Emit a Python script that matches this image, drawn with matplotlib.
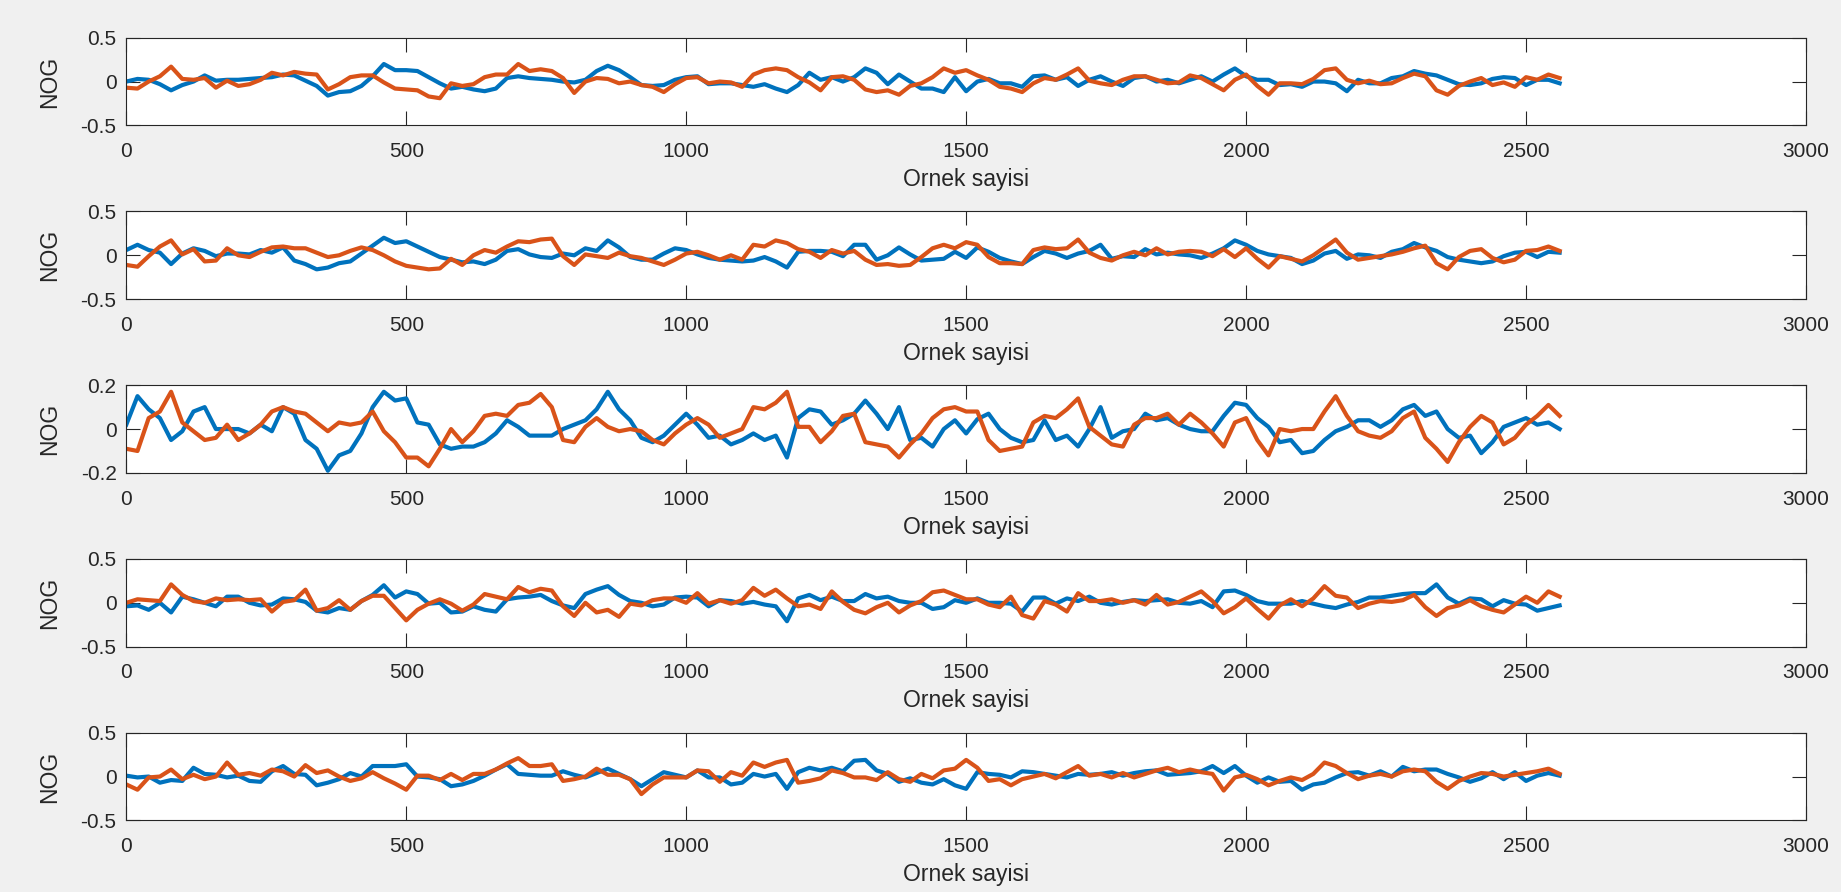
import numpy as np
import matplotlib
matplotlib.use('Agg')
import matplotlib.pyplot as plt

# sample index of every value (one reading each 20 samples)
sample = np.arange(0, 2561, 20)

panel1_blue = [
    0.00, 0.03, 0.02, -0.03, -0.10, -0.04, 0.00, 0.07, 0.01, 0.02,
    0.02, 0.03, 0.04, 0.05, 0.08, 0.07, 0.01, -0.05, -0.16, -0.12,
    -0.11, -0.05, 0.06, 0.20, 0.13, 0.13, 0.12, 0.05, -0.02, -0.08,
    -0.06, -0.09, -0.11, -0.08, 0.04, 0.06, 0.04, 0.03, 0.02, 0.00,
    -0.01, 0.02, 0.12, 0.18, 0.13, 0.05, -0.04, -0.05, -0.04, 0.02,
    0.05, 0.06, -0.03, -0.02, -0.02, -0.04, -0.06, -0.03, -0.08, -0.12,
    -0.04, 0.10, 0.02, 0.05, 0.00,
    0.05, 0.15, 0.10, -0.03, 0.08, 0.00, -0.08, -0.08, -0.12, 0.05,
    -0.11, 0.00, 0.03, -0.02, -0.02, -0.06, 0.06, 0.07, 0.02, 0.05,
    -0.05, 0.02, 0.06, 0.00, -0.05, 0.04, 0.06, 0.00, 0.02, -0.02,
    0.02, 0.06, 0.00, 0.08, 0.15, 0.06, 0.02, 0.02, -0.04, -0.03,
    -0.06, 0.00, 0.00, -0.02, -0.11, 0.02, -0.02, -0.02, 0.04, 0.06,
    0.12, 0.09, 0.07, 0.02, -0.03, -0.04, -0.02, 0.03, 0.05, 0.04,
    -0.04, 0.02, 0.02, -0.02]
panel1_orange = [
    -0.07, -0.08, 0.00, 0.06, 0.17, 0.03, 0.02, 0.04, -0.07, 0.01,
    -0.05, -0.03, 0.02, 0.10, 0.07, 0.11, 0.09, 0.08, -0.09, -0.03,
    0.05, 0.07, 0.07, -0.01, -0.08, -0.09, -0.10, -0.17, -0.19, -0.02,
    -0.05, -0.03, 0.05, 0.08, 0.08, 0.20, 0.12, 0.14, 0.12, 0.04,
    -0.13, 0.00, 0.04, 0.03, -0.02, 0.00, -0.04, -0.06, -0.12, -0.03,
    0.04, 0.05, -0.02, 0.00, -0.01, -0.06, 0.08, 0.13, 0.15, 0.13,
    0.05, -0.01, -0.10, 0.05, 0.06,
    0.02, -0.09, -0.12, -0.10, -0.15, -0.05, -0.02, 0.05, 0.15, 0.10,
    0.13, 0.07, 0.02, -0.06, -0.08, -0.12, -0.02, 0.04, 0.02, 0.08,
    0.15, 0.01, -0.02, -0.04, 0.02, 0.06, 0.06, 0.02, -0.02, -0.01,
    0.07, 0.04, -0.03, -0.10, 0.02, 0.08, -0.05, -0.15, -0.02, -0.02,
    -0.03, 0.03, 0.13, 0.15, 0.02, -0.02, 0.01, -0.03, -0.02, 0.04,
    0.09, 0.06, -0.10, -0.15, -0.05, 0.00, 0.04, -0.04, -0.01, -0.06,
    0.05, 0.02, 0.08, 0.04]

panel2_blue = [
    0.06, 0.12, 0.06, 0.03, -0.10, 0.02, 0.08, 0.05, -0.01, 0.02,
    0.02, 0.01, 0.06, 0.03, 0.09, -0.06, -0.10, -0.16, -0.14, -0.09,
    -0.07, 0.02, 0.11, 0.20, 0.14, 0.16, 0.10, 0.04, -0.02, -0.05,
    -0.08, -0.07, -0.10, -0.05, 0.05, 0.07, 0.01, -0.02, -0.03, 0.02,
    0.00, 0.08, 0.05, 0.17, 0.09, -0.02, -0.05, -0.05, 0.02, 0.08,
    0.06, 0.01, -0.03, -0.05, -0.06, -0.07, -0.06, -0.02, -0.07, -0.14,
    0.04, 0.05, 0.05, 0.04, -0.01,
    0.12, 0.12, -0.05, 0.00, 0.09, 0.01, -0.06, -0.05, -0.04, 0.04,
    -0.03, 0.09, 0.04, -0.03, -0.07, -0.10, -0.02, 0.05, 0.02, -0.03,
    0.02, 0.05, 0.12, -0.04, -0.01, -0.02, 0.07, 0.01, 0.03, 0.01,
    0.00, -0.03, 0.02, 0.08, 0.17, 0.12, 0.05, 0.01, -0.01, -0.03,
    -0.10, -0.06, 0.02, 0.05, -0.04, 0.01, 0.00, -0.03, 0.04, 0.07,
    0.14, 0.09, 0.05, -0.02, -0.05, -0.07, -0.09, -0.07, -0.01, 0.03,
    0.04, -0.02, 0.04, 0.03]
panel2_orange = [
    -0.11, -0.13, -0.01, 0.10, 0.17, 0.01, 0.07, -0.07, -0.06, 0.08,
    0.00, -0.02, 0.04, 0.09, 0.10, 0.08, 0.08, 0.03, -0.02, 0.00,
    0.05, 0.09, 0.06, 0.00, -0.07, -0.12, -0.14, -0.16, -0.15, -0.04,
    -0.11, 0.00, 0.06, 0.03, 0.10, 0.16, 0.15, 0.18, 0.19, -0.01,
    -0.11, 0.01, -0.01, -0.03, 0.03, -0.01, -0.03, -0.07, -0.11, -0.05,
    0.02, 0.04, 0.00, -0.05, 0.00, -0.05, 0.12, 0.10, 0.17, 0.14,
    0.07, 0.04, -0.03, 0.06, 0.02,
    0.05, -0.05, -0.11, -0.10, -0.12, -0.11, -0.02, 0.08, 0.12, 0.08,
    0.15, 0.12, -0.02, -0.09, -0.09, -0.10, 0.06, 0.09, 0.07, 0.08,
    0.18, 0.03, -0.03, -0.06, 0.00, 0.04, 0.00, 0.08, 0.01, 0.04,
    0.05, 0.04, -0.01, 0.07, -0.02, 0.08, -0.04, -0.14, -0.01, -0.04,
    -0.07, 0.00, 0.09, 0.18, 0.03, -0.05, -0.03, -0.01, 0.01, 0.04,
    0.08, 0.11, -0.09, -0.16, -0.02, 0.05, 0.07, -0.03, -0.08, -0.05,
    0.05, 0.06, 0.10, 0.05]

panel3_blue = [
    0.02, 0.15, 0.09, 0.05, -0.05, -0.01, 0.08, 0.10, 0.00, 0.00,
    0.00, -0.02, 0.02, -0.01, 0.10, 0.07, -0.05, -0.09, -0.19, -0.12,
    -0.10, -0.02, 0.10, 0.17, 0.13, 0.14, 0.03, 0.02, -0.07, -0.09,
    -0.08, -0.08, -0.06, -0.02, 0.04, 0.01, -0.03, -0.03, -0.03, 0.00,
    0.02, 0.04, 0.09, 0.17, 0.09, 0.04, -0.04, -0.06, -0.03, 0.02,
    0.07, 0.02, -0.04, -0.03, -0.07, -0.05, -0.02, -0.05, -0.03, -0.13,
    0.05, 0.09, 0.08, 0.02, 0.04,
    0.07, 0.13, 0.07, 0.00, 0.10, -0.05, -0.04, -0.08, 0.00, 0.04,
    -0.02, 0.045, 0.07, 0.00, -0.04, -0.06, -0.05, 0.04, -0.05, -0.03,
    -0.08, 0.00, 0.10, -0.04, -0.01, 0.00, 0.07, 0.04, 0.05, 0.02,
    0.00, -0.01, -0.01, 0.06, 0.12, 0.11, 0.05, 0.01, -0.06, -0.05,
    -0.11, -0.10, -0.05, -0.01, 0.01, 0.04, 0.04, 0.01, 0.04, 0.09,
    0.11, 0.06, 0.08, 0.00, -0.04, -0.03, -0.11, -0.06, 0.01, 0.03,
    0.05, 0.02, 0.03, 0.00]
panel3_orange = [
    -0.09, -0.10, 0.05, 0.08, 0.17, 0.03, -0.01, -0.05, -0.04, 0.02,
    -0.05, -0.02, 0.02, 0.08, 0.10, 0.08, 0.07, 0.03, -0.01, 0.03,
    0.02, 0.03, 0.08, -0.01, -0.06, -0.13, -0.13, -0.17, -0.09, 0.00,
    -0.06, -0.01, 0.06, 0.07, 0.06, 0.11, 0.12, 0.16, 0.10, -0.05,
    -0.06, 0.01, 0.05, 0.01, -0.01, 0.00, -0.01, -0.05, -0.07, -0.02,
    0.02, 0.05, 0.02, -0.04, -0.02, 0.00, 0.10, 0.09, 0.12, 0.17,
    0.01, 0.01, -0.06, -0.01, 0.06,
    0.07, -0.06, -0.07, -0.08, -0.13, -0.07, -0.02, 0.05, 0.09, 0.10,
    0.08, 0.08, -0.05, -0.10, -0.09, -0.08, 0.03, 0.06, 0.05, 0.09,
    0.14, 0.01, -0.03, -0.07, -0.08, 0.02, 0.05, 0.05, 0.07, 0.02,
    0.07, 0.03, -0.02, -0.08, 0.03, 0.05, -0.05, -0.12, 0.00, -0.01,
    0.00, 0.00, 0.08, 0.15, 0.06, -0.01, -0.03, -0.04, -0.01, 0.05,
    0.08, -0.04, -0.09, -0.15, -0.06, 0.01, 0.06, 0.03, -0.07, -0.04,
    0.02, 0.06, 0.11, 0.06]

panel4_blue = [
    -0.04, -0.03, -0.08, 0.00, -0.11, 0.07, 0.04, 0.00, -0.04, 0.07,
    0.07, 0.00, -0.03, -0.02, 0.05, 0.04, 0.01, -0.09, -0.11, -0.06,
    -0.08, 0.02, 0.09, 0.20, 0.06, 0.13, 0.10, -0.01, 0.00, -0.11,
    -0.10, -0.04, -0.08, -0.10, 0.04, 0.06, 0.07, 0.09, 0.02, -0.03,
    -0.06, 0.10, 0.15, 0.19, 0.09, 0.02, 0.00, -0.04, -0.02, 0.06,
    0.07, 0.06, -0.04, 0.03, 0.02, -0.01, 0.01, -0.02, -0.04, -0.21,
    0.05, 0.09, 0.03, 0.07, 0.02,
    0.02, 0.10, 0.05, 0.07, 0.02, 0.00, 0.00, -0.07, -0.05, 0.03,
    0.00, 0.05, 0.00, 0.00, -0.01, -0.10, 0.06, 0.06, -0.01, 0.05,
    0.02, 0.07, 0.00, -0.02, 0.01, 0.03, 0.02, 0.03, 0.04, 0.00,
    -0.01, 0.02, -0.05, 0.13, 0.14, 0.09, 0.02, -0.01, -0.01, -0.01,
    0.02, -0.01, -0.04, -0.06, -0.02, 0.01, 0.06, 0.06, 0.08, 0.10,
    0.11, 0.11, 0.21, 0.06, -0.01, 0.05, 0.04, -0.04, 0.03, -0.01,
    -0.02, -0.09, -0.06, -0.03]
panel4_orange = [
    0.00, 0.04, 0.03, 0.02, 0.21, 0.09, 0.02, 0.00, 0.05, 0.03,
    0.04, 0.03, 0.04, -0.10, 0.01, 0.03, 0.15, -0.09, -0.06, 0.03,
    -0.08, 0.02, 0.08, 0.08, -0.06, -0.20, -0.08, -0.01, 0.04, -0.01,
    -0.09, -0.02, 0.10, 0.07, 0.04, 0.18, 0.12, 0.16, 0.14, -0.04,
    -0.15, 0.00, -0.11, -0.08, -0.16, -0.01, -0.03, 0.03, 0.05, 0.05,
    0.00, 0.11, -0.01, 0.03, -0.01, 0.03, 0.17, 0.08, 0.15, 0.05,
    -0.04, -0.02, -0.07, 0.13, 0.01,
    -0.08, -0.12, -0.05, 0.00, -0.11, -0.03, 0.02, 0.12, 0.14, 0.09,
    0.04, 0.04, -0.02, -0.05, 0.07, -0.14, -0.18, 0.02, -0.02, -0.10,
    0.11, 0.02, 0.02, 0.04, 0.00, 0.03, -0.02, 0.09, -0.02, 0.01,
    0.07, 0.13, 0.02, -0.12, -0.05, 0.05, -0.07, -0.18, -0.03, 0.04,
    -0.04, 0.05, 0.19, 0.08, 0.06, -0.06, -0.01, 0.02, 0.01, 0.03,
    0.09, -0.05, -0.15, -0.06, -0.03, 0.03, -0.04, -0.08, -0.11, -0.02,
    0.07, 0.00, 0.13, 0.07]

panel5_blue = [
    0.01, -0.01, 0.00, -0.07, -0.04, -0.05, 0.10, 0.03, 0.02, -0.01,
    0.01, -0.05, -0.06, 0.06, 0.12, 0.03, 0.02, -0.10, -0.07, -0.03,
    0.04, 0.00, 0.12, 0.12, 0.12, 0.14, 0.00, -0.01, -0.03, -0.11,
    -0.09, -0.05, 0.01, 0.08, 0.14, 0.03, 0.02, 0.01, 0.01, 0.06,
    0.02, -0.01, 0.04, 0.09, 0.03, -0.03, -0.11, -0.03, 0.05, 0.02,
    -0.01, 0.07, -0.01, -0.01, -0.09, -0.07, 0.03, 0.00, 0.03, -0.14,
    0.05, 0.10, 0.07, 0.10, 0.06,
    0.18, 0.19, 0.07, 0.03, -0.06, -0.02, -0.07, -0.09, -0.03, -0.10,
    -0.14, 0.05, 0.03, 0.02, -0.01, 0.06, 0.05, 0.03, 0.01, -0.01,
    0.03, 0.02, 0.03, 0.05, 0.01, 0.04, 0.06, 0.07, 0.02, 0.03,
    0.04, 0.06, 0.12, 0.04, 0.12, 0.01, -0.07, -0.01, -0.06, -0.05,
    -0.15, -0.09, -0.07, -0.01, 0.04, 0.05, 0.01, 0.06, 0.00, 0.11,
    0.06, 0.08, 0.08, 0.03, -0.01, -0.06, -0.02, 0.05, -0.03, 0.05,
    -0.05, 0.01, 0.04, 0.01]
panel5_orange = [
    -0.09, -0.15, -0.01, 0.00, 0.08, -0.03, 0.02, -0.03, 0.00, 0.16,
    0.02, 0.04, 0.01, 0.08, 0.06, 0.00, 0.13, 0.04, 0.07, 0.00,
    -0.05, -0.02, 0.05, -0.02, -0.08, -0.15, 0.01, 0.01, -0.04, 0.03,
    -0.04, 0.03, 0.03, 0.08, 0.15, 0.21, 0.12, 0.12, 0.14, -0.05,
    -0.03, 0.00, 0.09, 0.02, 0.02, -0.03, -0.20, -0.09, -0.01, -0.01,
    -0.01, 0.07, 0.06, -0.06, 0.05, 0.01, 0.16, 0.11, 0.16, 0.19,
    -0.07, -0.05, -0.02, 0.07, 0.04,
    -0.01, -0.01, -0.04, 0.05, -0.03, -0.06, 0.03, -0.02, 0.07, 0.09,
    0.19, 0.10, -0.05, -0.03, -0.10, -0.03, 0.00, 0.03, -0.02, 0.05,
    0.12, 0.01, 0.03, -0.01, 0.04, -0.01, 0.03, 0.07, 0.10, 0.05,
    0.08, 0.05, 0.03, -0.16, -0.01, 0.02, -0.03, -0.10, -0.05, -0.01,
    -0.04, 0.03, 0.16, 0.12, 0.04, -0.03, 0.01, 0.03, 0.00, 0.06,
    0.08, 0.06, -0.06, -0.14, -0.05, 0.00, 0.04, 0.03, 0.00, 0.02,
    0.04, 0.06, 0.09, 0.03]

panels = [
    (panel1_blue, panel1_orange, 0.5),
    (panel2_blue, panel2_orange, 0.5),
    (panel3_blue, panel3_orange, 0.2),
    (panel4_blue, panel4_orange, 0.5),
    (panel5_blue, panel5_orange, 0.5),
]
x_ticks = [0, 500, 1000, 1500, 2000, 2500, 3000]

BLUE = '#0072BD'
ORANGE = '#D95319'
TEXT = '#262626'

plt.rcParams['font.family'] = ['Liberation Sans', 'DejaVu Sans']
plt.rcParams['axes.unicode_minus'] = False

W, H = 1841, 892
fig = plt.figure(figsize=(W / 100, H / 100), dpi=100, facecolor='#F0F0F0')

left_px, right_px = 126.3, 1806
top0_px, step_px, height_px = 37.7, 173.75, 87.7

for i, (blue, orange, lim) in enumerate(panels):
    top = top0_px + i * step_px
    ax = fig.add_axes([left_px / W, 1 - (top + height_px) / H,
                       (right_px - left_px) / W, height_px / H])
    ax.set_facecolor('white')
    ax.plot(sample, blue, color=BLUE, lw=3.0)
    ax.plot(sample, orange, color=ORANGE, lw=3.0)

    ax.set_xlim(0, 3000)
    ax.set_ylim(-lim, lim)
    ax.set_xticks(x_ticks)
    ax.set_yticks([-lim, 0, lim])
    ax.set_yticklabels([f'{-lim:g}', '0', f'{lim:g}'])

    ax.tick_params(direction='in', length=10, width=0.8, colors=TEXT,
                   labelsize=15, top=True, right=True)
    ax.tick_params(axis='x', pad=12)
    ax.tick_params(axis='y', pad=7)
    for sp in ax.spines.values():
        sp.set_color(TEXT)
        sp.set_linewidth(0.8)

    ax.set_xlabel('Ornek sayisi', fontsize=16.5, color=TEXT, labelpad=5)
    ax.set_ylabel('NOG', fontsize=16.5, color=TEXT)
    ax.yaxis.set_label_coords((61 - left_px) / (right_px - left_px), 0.5)

fig.savefig('out.png', dpi=100, facecolor=fig.get_facecolor())
